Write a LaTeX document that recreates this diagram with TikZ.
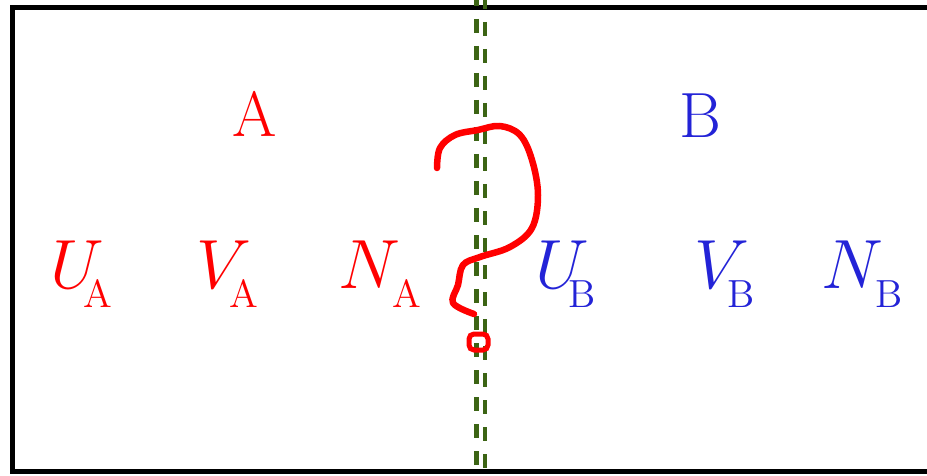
\documentclass[tikz,border=0pt]{standalone}
\usepackage{amsmath}
\usepackage{xcolor}
\usepackage{tikz}
\usetikzlibrary{arrows.meta, positioning}

\definecolor{sysred}{RGB}{255,0,0}
\definecolor{sysblue}{RGB}{35,35,215}
\definecolor{cutgreen}{RGB}{60,100,20}

\newcommand{\qsub}[2][0pt]{\kern#1\raisebox{-6.8pt}{\fontsize{14}{16}\selectfont #2}}

\begin{document}
\begin{tikzpicture}[x=1pt, y=-1pt,
    sysname/.style={inner sep=0pt, anchor=base, font=\Huge, scale=2.57},
    quantity/.style={inner sep=0pt, anchor=base west, font=\Huge, scale=2.8},
    cutline/.style={cutgreen, line width=4.5pt, dash pattern=on 14pt off 13pt},
    scrawl/.style={sysred, line width=6.5pt, line cap=round, line join=round}]
    \useasboundingbox (0,0) rectangle (927,476);
    \clip (0,0) rectangle (927,476);
    % box round both systems
    \draw[line width=5pt] (940,7.5) -- (12,7.5) -- (12,471.5) -- (940,471.5);
    % system names
    \node[sysname, sysred] (sysA) at (255,137) {A};
    \node[sysname, sysblue] (sysB) at (700,138) {B};
    % state variables
    \node[quantity, sysred] (UA) at (50,288) {$U$\qsub[-7.5pt]{A}};
    \node[quantity, sysred] (VA) at (196,288) {$V$\qsub[-7.8pt]{A}};
    \node[quantity, sysred] (NA) at (338,288) {$N$\qsub[-2.8pt]{A}};
    \node[quantity, sysblue] (UB) at (535,288) {$U$\qsub[-7.5pt]{B}};
    \node[quantity, sysblue] (VB) at (694,288) {$V$\qsub[-7.8pt]{B}};
    \node[quantity, sysblue] (NB) at (821,288) {$N$\qsub[-2.8pt]{B}};
    % the wall between them
    \coordinate (cuttop) at (476.5,0);
    \coordinate (cutbot) at (476.5,476);
    \draw[cutline, dash phase=8pt] (cuttop) -- (cutbot);
    \draw[cutline, dash phase=5pt] ([xshift=8.5pt]cuttop) -- ([xshift=8.5pt]cutbot);
    % question mark
    \draw[scrawl] plot[smooth, tension=0.6] coordinates {(437,168) (440,148) (455,135) (478,130)
        (500,126) (520,135) (532,160) (538,195) (532,228) (510,247) (480,257) (463,265)
        (458,285) (453,303) (474,314)};
    \draw[sysred, line width=5pt, rounded corners=5pt] (469,334) rectangle (488,350);
\end{tikzpicture}
\end{document}
